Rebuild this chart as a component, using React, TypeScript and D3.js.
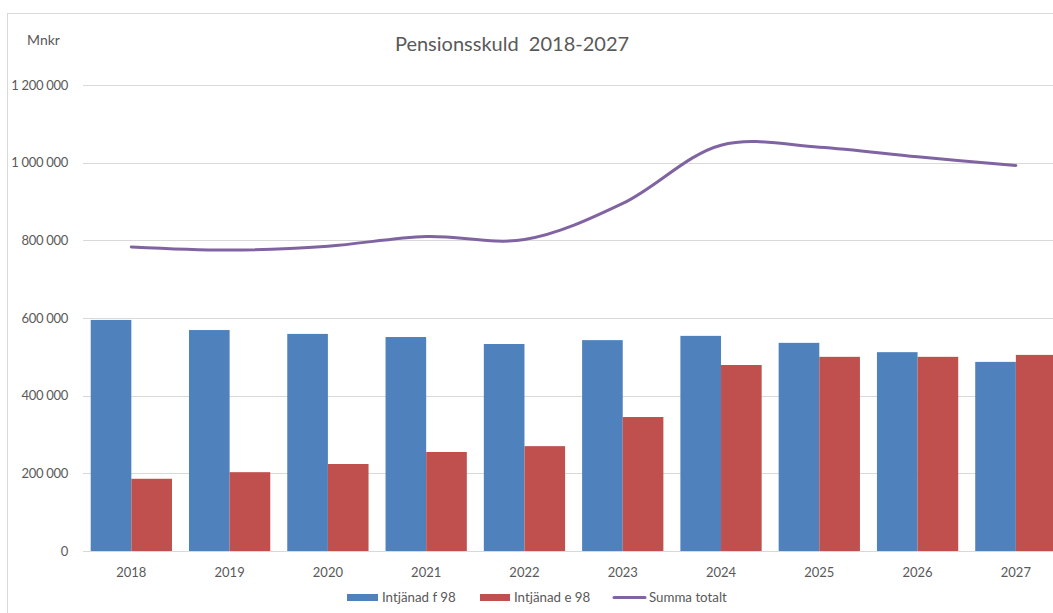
import React from "react";
import * as d3 from "d3";

const years = ["2018", "2019", "2020", "2021", "2022", "2023", "2024", "2025", "2026", "2027"];
const intjanadF98 = [595000, 569000, 559000, 551000, 533000, 543000, 554000, 536000, 512000, 487000];
const intjanadE98 = [186000, 203000, 224000, 255000, 270000, 345000, 479000, 500000, 500000, 505000];
const summaTotalt = [783000, 775000, 785000, 810000, 802000, 895000, 1045000, 1040000, 1015000, 993000];
const yTicks = [0, 200000, 400000, 600000, 800000, 1000000, 1200000];
const seriesNames = ["Intjänad f 98", "Intjänad e 98", "Summa totalt"];

const W = 1053;
const H = 613;
const FONT = "Lato, 'Open Sans', 'Noto Sans', sans-serif";
const TEXT = "#595959";
const GRID = "#D9D9D9";
const BLUE = "#4F81BD";
const RED = "#C0504D";
const PURPLE = "#8064A2";

const fmt = (v: number) => {
  const s = String(v);
  return s.replace(/\B(?=(\d{3})+(?!\d))/g, " ");
};

export default function App() {
  const x = d3.scaleBand<string>().domain(years).range([82.2, 1065]).paddingInner(0.173).paddingOuter(0.0865);
  const inner = d3.scaleBand<string>().domain(["f", "e"]).range([0, x.bandwidth()]);
  const y = d3.scaleLinear().domain([0, 1200000]).range([551, 85]);
  const line = d3
    .line<number>()
    .x((_, i) => (x(years[i]) as number) + x.bandwidth() / 2)
    .y((d) => y(d))
    .curve(d3.curveCatmullRom.alpha(0.5));

  return (
    <svg
      width={W}
      height={H}
      style={{ position: "absolute", left: 0, top: 0, background: "#fff" }}
      fontFamily={FONT}
    >
      <rect x={7.5} y={13.5} width={W + 20} height={H + 20} fill="#fff" stroke={GRID} strokeWidth={1} />
      <text x={512} y={51} textAnchor="middle" fontSize={20} fill={TEXT}>
        {"Pensionsskuld\u00A0 2018-2027"}
      </text>
      <text x={27} y={45} fontSize={14} fill={TEXT}>
        Mnkr
      </text>
      {yTicks.map((t) => (
        <g key={t}>
          {t > 0 && <line x1={83} x2={W} y1={Math.round(y(t)) + 0.5} y2={Math.round(y(t)) + 0.5} stroke={GRID} strokeWidth={1} />}
          <text x={68} y={y(t) + 4.5} textAnchor="end" fontSize={13} fill={TEXT} letterSpacing={-0.3}>
            {fmt(t)}
          </text>
        </g>
      ))}
      {years.map((yr, i) => (
        <g key={yr}>
          <rect x={(x(yr) as number) + (inner("f") as number)} y={y(intjanadF98[i])} width={inner.bandwidth()} height={y(0) - y(intjanadF98[i])} fill={BLUE} />
          <rect x={(x(yr) as number) + (inner("e") as number)} y={y(intjanadE98[i])} width={inner.bandwidth()} height={y(0) - y(intjanadE98[i])} fill={RED} />
          <text x={(x(yr) as number) + x.bandwidth() / 2} y={577} textAnchor="middle" fontSize={13} fill={TEXT}>
            {yr}
          </text>
        </g>
      ))}
      <line x1={83} x2={W} y1={551.5} y2={551.5} stroke={GRID} strokeWidth={1} />
      <path d={line(summaTotalt) || ""} fill="none" stroke={PURPLE} strokeWidth={3} strokeLinecap="round" />
      <g fontSize={13.3} fill={TEXT}>
        <rect x={347} y={594} width={31} height={7} fill={BLUE} />
        <text x={382} y={602}>{seriesNames[0]}</text>
        <rect x={480} y={594} width={30} height={7} fill={RED} />
        <text x={514} y={602}>{seriesNames[1]}</text>
        <line x1={614} x2={645} y1={597.5} y2={597.5} stroke={PURPLE} strokeWidth={3} strokeLinecap="round" />
        <text x={649} y={602}>{seriesNames[2]}</text>
      </g>
    </svg>
  );
}
